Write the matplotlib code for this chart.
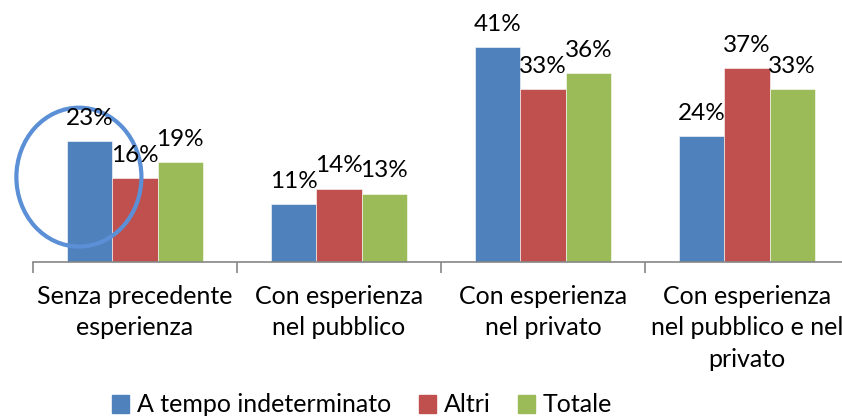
import matplotlib.pyplot as plt
import numpy as np
from matplotlib.patches import Ellipse, Patch

plt.rcParams['font.family'] = ['Lato', 'DejaVu Sans']

# data
categories = ['Senza precedente\nesperienza', 'Con esperienza\nnel pubblico',
              'Con esperienza\nnel privato', 'Con esperienza\nnel pubblico e nel\nprivato']
series = ['A tempo indeterminato', 'Altri', 'Totale']
tempo_ind = [23, 11, 41, 24]
altri = [16, 14, 33, 37]
totale = [19, 13, 36, 33]
colors = ['#4F81BD', '#C0504D', '#9BBB59']

fig = plt.figure(figsize=(8.42, 4.2), dpi=100)
ax = fig.add_axes([33 / 842, 1 - 262 / 420, 816 / 842, 262 / 420])

x = np.arange(len(categories))
w = 0.222
for i, (vals, c) in enumerate(zip([tempo_ind, altri, totale], colors)):
    pos = x + (i - 1) * w
    ax.bar(pos, vals, width=w, color=c, edgecolor='white', linewidth=0.4)
    for p, v in zip(pos, vals):
        ax.annotate(f'{v}%', (p, v), xytext=(0, 9), textcoords='offset points',
                    ha='center', va='bottom', fontsize=17.5)

ax.set_xlim(-0.5, 3.5)
ax.set_ylim(0, 50)
for s in ['top', 'right', 'left']:
    ax.spines[s].set_visible(False)
ax.spines['bottom'].set_color('#868686')
ax.spines['bottom'].set_linewidth(1.2)
ax.set_yticks([])
ax.set_xticks(np.arange(-0.5, 3.6, 1))
ax.set_xticklabels([])
ax.tick_params(axis='x', length=8, color='#868686', width=1.2)
for xi, lab in zip(x, categories):
    ax.text(xi, -4.3, lab, ha='center', va='top', fontsize=18, linespacing=1.45)

# circle highlight
ax.add_patch(Ellipse((-0.275, 16.2), 0.613, 26.5, fill=False,
                     edgecolor='#5B8FD6', linewidth=3, clip_on=False))

handles = [Patch(color=c) for c in colors]
fig.legend(handles, series, loc='center', bbox_to_anchor=(362 / 842, 1 - 405 / 420),
           ncol=3, frameon=False, fontsize=18, handlelength=0.7, handleheight=0.7,
           handletextpad=0.3, columnspacing=1.1)

fig.savefig('out.png', dpi=100)
